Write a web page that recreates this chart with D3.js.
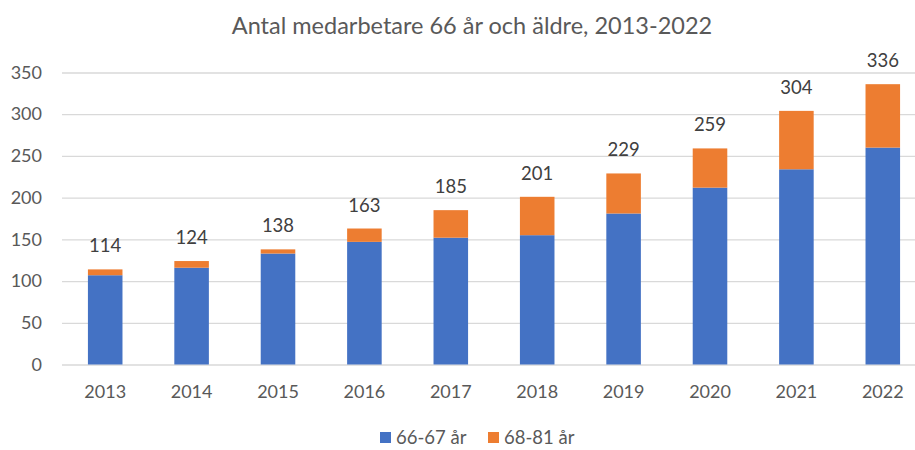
<!DOCTYPE html>
<html>
<head>
<meta charset="utf-8">
<script src="https://cdn.jsdelivr.net/npm/d3@7"></script>
<style>
  body { margin: 0; background: #fff; }
  svg { display: block; font-family: Lato, "Open Sans", sans-serif; }
</style>
</head>
<body>
<svg id="chart" width="915" height="450"></svg>
<script>
var years = ['2013', '2014', '2015', '2016', '2017', '2018', '2019', '2020', '2021', '2022'];
var young = [107, 116, 133, 147, 152, 155, 181, 212, 234, 260];   // 66-67 år
var totals = [114, 124, 138, 163, 185, 201, 229, 259, 304, 336];
var old = totals.map((t, i) => t - young[i]);                     // 68-81 år
var seriesNames = ['66-67 år', '68-81 år'];
var colors = ['#4472c4', '#ed7d31'];
var yTicks = [0, 50, 100, 150, 200, 250, 300, 350];

var svg = d3.select('#chart'),
    width = +svg.attr('width'),
    height = +svg.attr('height');

var x = d3.scaleBand()
    .domain(years)
    .range([62, 926])
    .paddingInner(0.6)
    .paddingOuter(0.3);

var y = d3.scaleLinear()
    .domain([0, 350])
    .range([364.5, 72.5]);

// title
svg.append('text')
    .attr('x', 472)
    .attr('y', 34)
    .attr('text-anchor', 'middle')
    .attr('fill', '#595959')
    .style('font-size', '23.5px')
    .text('Antal medarbetare 66 år och äldre, 2013-2022');

// gridlines + y labels
var yAxis = svg.append('g')
    .attr('transform', 'translate(62,0)')
    .call(d3.axisLeft(y).tickValues(yTicks).tickSize(-(926 - 62)).tickPadding(20));
yAxis.select('.domain').remove();
yAxis.selectAll('.tick line').attr('stroke', '#d9d9d9').attr('stroke-width', 1.3);
yAxis.selectAll('.tick text')
    .attr('fill', '#595959')
    .style('font-size', '18px')
    .style('font-family', 'Lato, sans-serif');

// stacked bars
var rows = years.map((yr, i) => ({ year: yr, a: young[i], b: old[i] }));
var stack = d3.stack().keys(['a', 'b'])(rows);

svg.append('g').selectAll('g')
    .data(stack)
    .join('g')
    .attr('fill', (d, i) => colors[i])
    .selectAll('rect')
    .data(d => d)
    .join('rect')
    .attr('x', d => x(d.data.year))
    .attr('y', d => y(d[1]))
    .attr('width', x.bandwidth())
    .attr('height', d => y(d[0]) - y(d[1]));

// x axis labels
var xAxis = svg.append('g')
    .attr('transform', 'translate(0,364.5)')
    .call(d3.axisBottom(x).tickSize(0).tickPadding(21));
xAxis.select('.domain').remove();
xAxis.selectAll('.tick text')
    .attr('fill', '#595959')
    .style('font-size', '18px')
    .style('font-family', 'Lato, sans-serif');

// total labels
svg.append('g').selectAll('text')
    .data(rows)
    .join('text')
    .attr('x', d => x(d.year) + x.bandwidth() / 2)
    .attr('y', d => y(d.a + d.b) - 17)
    .attr('text-anchor', 'middle')
    .attr('fill', '#404040')
    .style('font-size', '18.5px')
    .text(d => d.a + d.b);

// legend
var legend = svg.append('g');
var legendX = [380, 488];
seriesNames.forEach((name, i) => {
    legend.append('rect')
        .attr('x', legendX[i])
        .attr('y', 432)
        .attr('width', 11)
        .attr('height', 11)
        .attr('fill', colors[i]);
    legend.append('text')
        .attr('x', legendX[i] + 16)
        .attr('y', 443.5)
        .attr('fill', '#595959')
        .style('font-size', '18.5px')
        .text(name);
});
</script>
</body>
</html>
